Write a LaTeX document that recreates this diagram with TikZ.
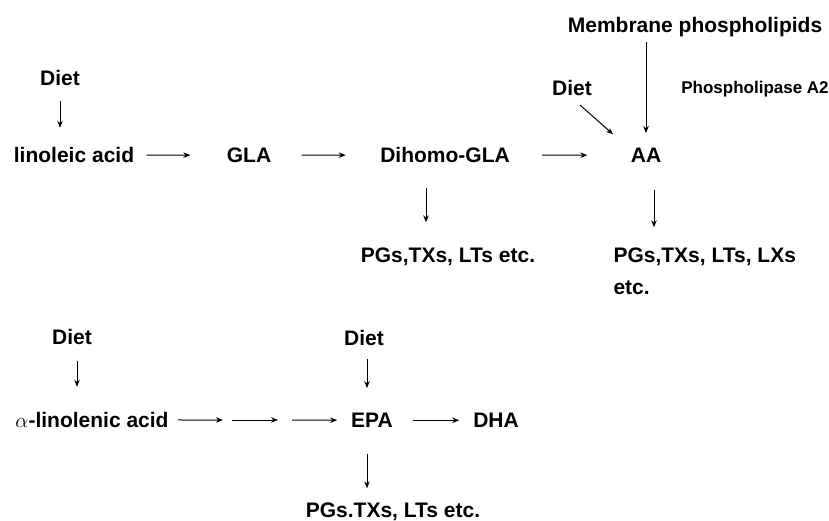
\documentclass[tikz,border=0pt]{standalone}
\usepackage{fontspec}
\setmainfont{Liberation Sans}
\usetikzlibrary{positioning,arrows.meta}

\begin{document}
\begin{tikzpicture}[x=1pt,y=-1pt,>={Stealth[length=7pt,width=5.5pt]},line width=1pt]
    \tikzstyle{lbl}=[inner sep=0pt,anchor=base,font=\bfseries\fontsize{21}{32}\selectfont]
    \tikzstyle{small}=[lbl,font=\bfseries\fontsize{17}{20}\selectfont]
    \useasboundingbox (0,0) rectangle (829,521);

    % omega-6 branch
    \node[lbl] at (695,32.5) (mem) {Membrane phospholipids};
    \node[lbl] at (572,95.5) (dietA) {Diet};
    \node[small] at (755,94) (pla) {Phospholipase A2};
    \node[lbl] at (60,85.5) (dietL) {Diet};

    \node[lbl] at (74,162.5) (lino) {linoleic acid};
    \node[lbl] at (249,162.5) (gla) {GLA};
    \node[lbl] at (445,162.5) (dgla) {Dihomo-GLA};
    \node[lbl] at (646,162.5) (aa) {AA};

    \node[lbl] at (448,262.5) (eicoA) {PGs,TXs, LTs etc.};
    \node[lbl,anchor=base west,align=left] at (613,294.5)
    (eicoB) {PGs,TXs, LTs, LXs\\etc.};

    \draw[->,shorten <=12pt,shorten >=36pt] (lino) -- (gla);
    \draw[->,shorten <=30pt,shorten >=34pt] (gla) -- (dgla);
    \draw[->,shorten <=32pt,shorten >=43pt] (dgla) -- (aa);

    \draw[->,shorten <=14.5pt,shorten >=19pt] (dietL.south) -- (dietL.south |- lino.north);
    \draw[->,shorten <=5pt,shorten >=14.5pt] (aa |- mem.south) -- (aa.north);
    \draw[->] ([shift={(8,17)}]dietA.center) -- ([shift={(-33,-21)}]aa.center);
    \draw[->,shorten <=24.5pt,shorten >=25pt] ([xshift=-19pt]dgla.south)
    -- ([xshift=-19pt]dgla.south |- eicoA.north);
    \draw[->,shorten <=27.5pt,shorten >=20pt] ([xshift=8pt]aa.south)
    -- ([xshift=8pt]aa.south |- eicoB.north);

    % omega-3 branch
    \node[lbl] at (72,344.5) (dietB) {Diet};
    \node[lbl] at (364,345.5) (dietE) {Diet};
    \node[lbl] at (92,427.5) (alin) {{\mdseries$\alpha$}-linolenic acid};
    \node[lbl] at (372,427.5) (epa) {EPA};
    \node[lbl] at (496,427.5) (dha) {DHA};
    \node[lbl] at (393,517.5) (eicoC) {PGs.TXs, LTs etc.};
    \coordinate (m1) at (227.5,420);
    \coordinate (m2) at (285,420);

    \draw[->,shorten <=9pt,shorten >=4.5pt] (alin) -- (m1);
    \draw[->,shorten <=4.5pt,shorten >=7pt] (m1) -- (m2);
    \draw[->,shorten <=7pt,shorten >=13.5pt] (m2) -- (epa);
    \draw[->,shorten <=19.5pt,shorten >=13.5pt] (epa) -- (dha);

    \draw[->,shorten <=15.5pt,shorten >=25pt] ([xshift=5pt]dietB.south)
    -- ([xshift=5pt]dietB.south |- alin.north);
    \draw[->,shorten <=12.5pt,shorten >=24.5pt] ([xshift=3pt]dietE.south)
    -- ([xshift=3pt]dietE.south |- epa.north);
    \draw[->,shorten <=25.5pt,shorten >=14pt] ([xshift=-5pt]epa.south)
    -- ([xshift=-5pt]epa.south |- eicoC.north);
\end{tikzpicture}
\end{document}
